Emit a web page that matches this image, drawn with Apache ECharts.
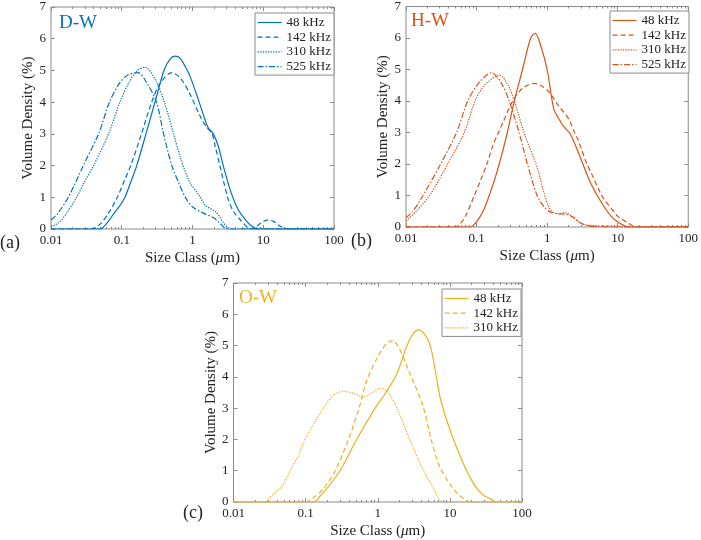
<!DOCTYPE html>
<html><head><meta charset="utf-8">
<script src="https://cdn.jsdelivr.net/npm/echarts@6/dist/echarts.min.js"></script>
<style>html,body{margin:0;padding:0;background:#fff}#c{width:701px;height:540px}</style>
</head><body><div id="c"></div>
<script>
// ---- data ----
const xTickLabels = ['0.01', '0.1', '1', '10', '100'];
const yTickLabels = ['0', '1', '2', '3', '4', '5', '6', '7'];
const minorVals = [0.02,0.03,0.04,0.05,0.06,0.07,0.08,0.09,0.2,0.3,0.4,0.5,0.6,0.7,0.8,0.9,2,3,4,5,6,7,8,9,20,30,40,50,60,70,80,90];
const freqsDW = ['48 kHz', '142 kHz', '310 kHz', '525 kHz'];
const freqsHW = ['48 kHz', '142 kHz', '310 kHz', '525 kHz'];
const freqsOW = ['48 kHz', '142 kHz', '310 kHz'];

const dw48 = [[0.01,0],[0.045,0],[0.052,0.02],[0.065,0.25],[0.078,0.5],[0.095,0.75],[0.111,1],[0.135,1.5],[0.163,2],[0.22,3],[0.295,4],[0.395,5],[0.48,5.35],[0.57,5.45],[0.67,5.38],[0.8,5.1],[0.92,4.82],[1.21,4.08],[1.5,3.45],[1.67,3.19],[1.97,3.0],[2.32,2.6],[2.72,2.0],[3.39,1.25],[4.4,0.62],[5.8,0.25],[7.0,0.08],[8.5,0],[100,0]];
const dw142 = [[0.01,0],[0.038,0],[0.045,0.08],[0.052,0.2],[0.065,0.5],[0.0865,1],[0.11,1.55],[0.134,2],[0.19,3],[0.265,4],[0.35,4.6],[0.51,4.93],[0.665,4.77],[0.9,4.3],[1.28,3.56],[1.6,3.2],[1.87,3.03],[2.1,2.6],[2.45,1.98],[3.2,0.93],[3.8,0.55],[4.7,0.3],[5.8,0.08],[6.9,0],[7.5,0.02],[9,0.17],[11.5,0.28],[14,0.24],[17,0.1],[20,0.02],[22,0],[100,0]];
const dw310 = [[0.01,0.07],[0.013,0.2],[0.0166,0.5],[0.023,1],[0.03,1.5],[0.04,2],[0.065,3],[0.094,4],[0.125,4.6],[0.163,4.98],[0.213,5.1],[0.3,4.7],[0.4,4.0],[0.54,3.0],[0.665,2.3],[0.9,1.5],[1.27,1.03],[1.5,0.75],[2.08,0.56],[2.4,0.4],[2.72,0.2],[3.1,0.06],[3.4,0],[100,0]];
const dw525 = [[0.01,0.28],[0.0125,0.5],[0.0176,1],[0.0286,2],[0.047,3],[0.067,4],[0.09,4.55],[0.12,4.85],[0.17,4.93],[0.22,4.65],[0.31,4.0],[0.39,3.0],[0.51,2.0],[0.66,1.38],[0.8,0.98],[1.0,0.7],[1.42,0.5],[1.97,0.36],[2.4,0.2],[2.7,0.08],[3.04,0],[100,0]];

const hw48 = [[0.01,0],[0.08,0],[0.09,0.05],[0.11,0.3],[0.13,0.6],[0.151,1],[0.18,1.5],[0.209,2],[0.24,2.5],[0.273,3],[0.343,4],[0.448,5],[0.585,6],[0.68,6.15],[0.8,5.8],[1.0,5.0],[1.24,3.75],[1.45,3.45],[1.7,3.2],[2.13,2.95],[2.94,2.22],[4.07,1.43],[5.63,0.85],[7.8,0.38],[10.7,0.12],[14.8,0],[100,0]];
const hw142 = [[0.01,0],[0.05,0],[0.056,0.05],[0.07,0.35],[0.093,1],[0.115,1.5],[0.14,2],[0.171,2.6],[0.204,3],[0.235,3.3],[0.325,4.0],[0.448,4.4],[0.65,4.56],[0.8,4.5],[1.05,4.3],[1.45,3.85],[2.0,3.45],[2.38,3.06],[2.76,2.75],[3.66,2.0],[4.25,1.7],[5.63,1.1],[6.5,0.86],[8.7,0.5],[10,0.34],[13.4,0.15],[16,0.05],[18.5,0],[100,0]];
const hw310 = [[0.01,0.2],[0.014,0.5],[0.0216,1],[0.039,2],[0.067,3],[0.095,4],[0.13,4.5],[0.212,4.82],[0.28,4.5],[0.343,4.0],[0.47,3.0],[0.72,1.9],[0.9,1.1],[1.11,0.55],[1.4,0.42],[1.8,0.45],[2.2,0.35],[2.63,0.2],[3.2,0.1],[3.66,0.06],[6,0.03],[10,0.02],[12,0],[100,0]];
const hw525 = [[0.01,0.3],[0.0125,0.5],[0.0174,1],[0.031,2],[0.052,3],[0.075,4],[0.11,4.6],[0.162,4.9],[0.22,4.6],[0.29,4.0],[0.4,3.0],[0.526,2.0],[0.72,1.0],[0.9,0.65],[1.1,0.48],[1.4,0.42],[1.9,0.4],[2.4,0.3],[3,0.12],[3.8,0.04],[5,0.01],[7,0],[100,0]];

const ow48 = [[0.01,0],[0.13,0],[0.16,0.2],[0.2,0.45],[0.3,1],[0.51,2],[0.92,3],[1.3,3.5],[1.84,4.1],[2.54,5],[3.1,5.38],[3.68,5.5],[4.5,5.35],[5.35,5.0],[6.28,4.2],[7.4,3.3],[10.2,2.26],[15.5,1.21],[20,0.7],[23.9,0.42],[30,0.2],[36.7,0.1],[45,0],[100,0]];
const ow142 = [[0.01,0],[0.1,0],[0.13,0.15],[0.18,0.45],[0.257,1],[0.393,2],[0.55,3],[0.71,3.9],[0.98,4.6],[1.3,5.05],[1.6,5.16],[2.0,4.9],[2.75,4.14],[4.2,3.1],[5.5,2.0],[7.3,1.1],[10.2,0.55],[13,0.25],[17,0.05],[19,0],[100,0]];
const ow310 = [[0.01,0],[0.028,0],[0.032,0.15],[0.04,0.35],[0.047,0.5],[0.061,1],[0.08,1.5],[0.098,2],[0.13,2.5],[0.177,3],[0.24,3.4],[0.336,3.54],[0.45,3.48],[0.635,3.36],[0.85,3.5],[1.1,3.64],[1.4,3.5],[1.85,3.0],[2.83,1.94],[4.3,1.0],[5.96,0.42],[7.0,0.1],[7.8,0],[100,0]];

// ---- layout / style ----
const FONT = '"Liberation Serif", "Times New Roman", serif';
const TXT = '#222';
const AX = '#8a8a8a';
const dashes = ['solid', [5, 3], [1.3, 1.3], [6, 2, 1.5, 2]];
const panels = [
  {key: 'D-W', tag: '(a)', color: '#0072BD', data: [dw48, dw142, dw310, dw525], freqs: freqsDW,
   grid: {left: 51, top: 7, width: 283, height: 222}, legend: {left: 255, top: 13}, tagPos: [0, 234], titlePos: [59, 14]},
  {key: 'H-W', tag: '(b)', color: '#D95319', data: [hw48, hw142, hw310, hw525], freqs: freqsHW,
   grid: {left: 406, top: 5, width: 286, height: 222}, legend: {left: 610, top: 11}, tagPos: [351, 232], titlePos: [411, 12]},
  {key: 'O-W', tag: '(c)', color: '#EDB120', data: [ow48, ow142, ow310], freqs: freqsOW,
   grid: {left: 233.5, top: 283, width: 288.5, height: 222}, legend: {left: 442, top: 289}, tagPos: [183, 504], titlePos: [239, 289]}
];

const grid = [], xAxis = [], yAxis = [], series = [], legend = [], title = [];
panels.forEach((p, i) => {
  grid.push(Object.assign({show: true, borderColor: AX, borderWidth: 1, backgroundColor: 'transparent', containLabel: false}, p.grid));
  const baseX = {type: 'log', logBase: 10, gridIndex: i, min: 0.01, max: 100,
    axisLine: {show: false}, splitLine: {show: false}, minorTick: {show: false}};
  xAxis.push(Object.assign({}, baseX, {position: 'bottom',
    axisTick: {inside: true, length: 4, lineStyle: {color: AX}},
    axisLabel: {margin: 5, fontFamily: FONT, fontSize: 13, color: TXT,
      formatter: v => xTickLabels[Math.round(Math.log10(v)) + 2]},
    name: 'Size Class ({i|\u03bc}m)', nameLocation: 'middle', nameGap: 22,
    nameTextStyle: {fontFamily: FONT, fontSize: 15, color: TXT,
      rich: {i: {fontFamily: FONT, fontSize: 15, fontStyle: 'italic', color: TXT}}}}));
  xAxis.push(Object.assign({}, baseX, {position: 'bottom', axisLabel: {show: false},
    axisTick: {inside: true, length: 2, customValues: minorVals, lineStyle: {color: AX}}}));
  xAxis.push(Object.assign({}, baseX, {position: 'top', axisLabel: {show: false},
    axisTick: {inside: true, length: 4, lineStyle: {color: AX}}}));
  xAxis.push(Object.assign({}, baseX, {position: 'top', axisLabel: {show: false},
    axisTick: {inside: true, length: 2, customValues: minorVals, lineStyle: {color: AX}}}));
  const baseY = {type: 'value', gridIndex: i, min: 0, max: 7, interval: 1,
    axisLine: {show: false}, splitLine: {show: false}};
  yAxis.push(Object.assign({}, baseY, {position: 'left',
    axisTick: {inside: true, length: 4, lineStyle: {color: AX}},
    axisLabel: {margin: 5, fontFamily: FONT, fontSize: 13, color: TXT, formatter: v => yTickLabels[v]},
    name: 'Volume Density (%)', nameLocation: 'middle', nameGap: 14,
    nameTextStyle: {fontFamily: FONT, fontSize: 15, color: TXT}}));
  yAxis.push(Object.assign({}, baseY, {position: 'right', axisLabel: {show: false},
    axisTick: {inside: true, length: 4, lineStyle: {color: AX}}}));
  const names = [];
  p.data.forEach((d, k) => {
    const nm = p.key + '|' + p.freqs[k];
    names.push(nm);
    series.push({type: 'line', name: nm, xAxisIndex: 4 * i, yAxisIndex: 2 * i, data: d,
      symbol: 'none', showSymbol: false, smooth: 0.3, clip: true, animation: false,
      lineStyle: {color: p.color, width: 1.2, type: dashes[k]}, itemStyle: {color: p.color}});
  });
  legend.push({data: names, orient: 'vertical', left: p.legend.left, top: p.legend.top,
    itemWidth: 24, itemHeight: 8, itemGap: 1.7, padding: [3, 3, 2, 2],
    borderColor: AX, borderWidth: 1, backgroundColor: '#fff', selectedMode: false,
    itemStyle: {opacity: 0, borderWidth: 0},
    lineStyle: {width: 1.2},
    formatter: n => n.split('|')[1],
    textStyle: {fontFamily: FONT, fontSize: 13, color: TXT, lineHeight: 13}});
  title.push({text: p.key, left: p.titlePos[0], top: p.titlePos[1], padding: 0,
    textStyle: {fontFamily: FONT, fontSize: 19, fontWeight: 'normal', color: p.color}});
  title.push({text: p.tag, left: p.tagPos[0], top: p.tagPos[1], padding: 0,
    textStyle: {fontFamily: FONT, fontSize: 18, fontWeight: 'normal', color: TXT}});
});

const chart = echarts.init(document.getElementById('c'), null, {renderer: 'canvas'});
chart.setOption({backgroundColor: '#fff', animation: false, grid, xAxis, yAxis, series, legend, title});
</script></body></html>
